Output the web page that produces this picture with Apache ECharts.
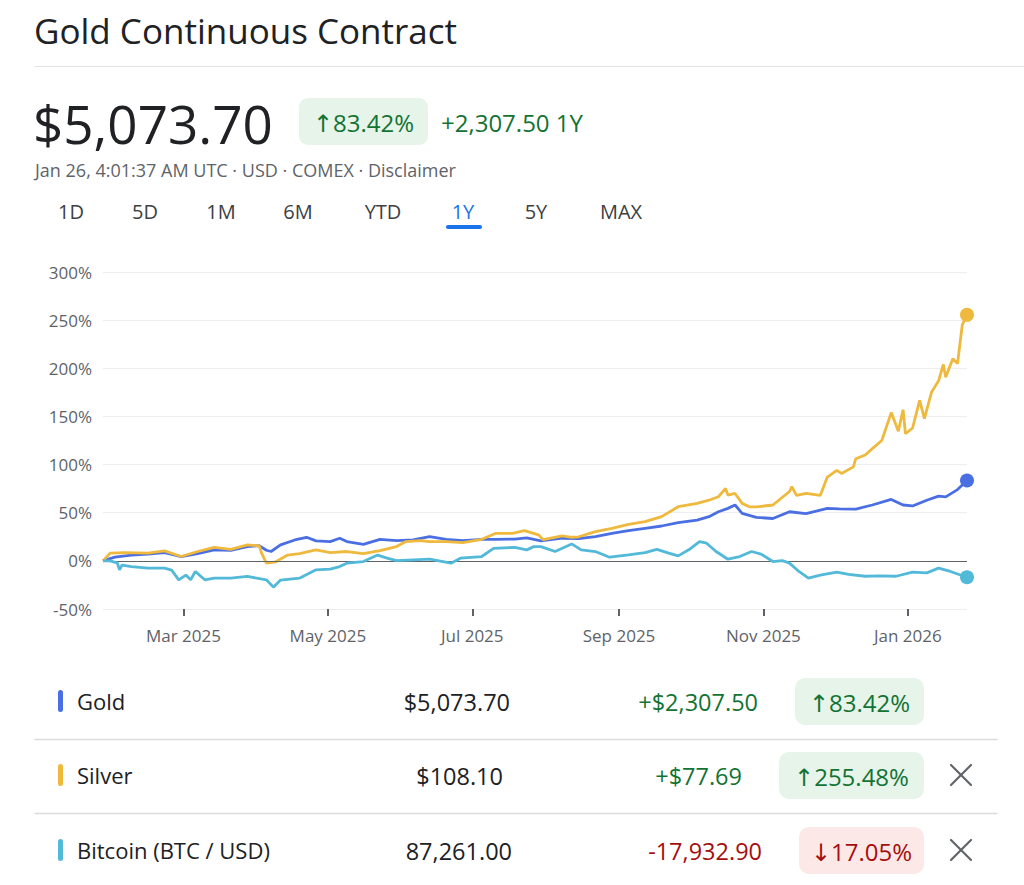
<!DOCTYPE html>
<html><head><meta charset="utf-8">
<script src="https://cdn.jsdelivr.net/npm/echarts@6/dist/echarts.min.js"></script>
<style>html,body{margin:0;padding:0;background:#fff;}#c{width:1024px;height:885px;}</style>
</head><body><div id="c"></div><script>
// ---------- data ----------
const seriesNames = ['Gold', 'Silver', 'Bitcoin (BTC / USD)'];
const goldDates = ['2025-01-26','2025-01-31','2025-02-07','2025-02-14','2025-02-21','2025-02-28','2025-03-07','2025-03-14','2025-03-21','2025-03-28','2025-04-02','2025-04-05','2025-04-07','2025-04-11','2025-04-17','2025-04-22','2025-04-26','2025-05-02','2025-05-06','2025-05-09','2025-05-16','2025-05-23','2025-05-30','2025-06-06','2025-06-13','2025-06-20','2025-06-27','2025-07-05','2025-07-11','2025-07-19','2025-07-24','2025-07-30','2025-08-08','2025-08-15','2025-08-22','2025-08-29','2025-09-05','2025-09-12','2025-09-19','2025-09-26','2025-10-04','2025-10-09','2025-10-13','2025-10-17','2025-10-20','2025-10-23','2025-10-29','2025-11-05','2025-11-12','2025-11-19','2025-11-28','2025-12-03','2025-12-10','2025-12-17','2025-12-25','2025-12-30','2026-01-03','2026-01-09','2026-01-14','2026-01-17','2026-01-22','2026-01-26'];
const goldValues = [0,3.8,6,7,8.6,4.5,7.6,11.4,11,14.8,15.8,11,9.7,16.6,21.7,24.5,20.7,20,23.5,20,17.2,22.4,21,21.7,25.2,22.4,21,22.4,22.4,22.6,23.8,20.7,23.5,23,25.2,28.6,31.4,33.8,36.2,39.7,42.4,45.9,51,54.5,58,49.4,45.2,44,51,49,54.5,54,53.8,58,63.8,58,57,63,67.3,66.5,74,83.42];
const silverDates = ['2025-01-26','2025-01-29','2025-02-04','2025-02-14','2025-02-21','2025-02-28','2025-03-07','2025-03-14','2025-03-21','2025-03-28','2025-04-02','2025-04-03','2025-04-05','2025-04-09','2025-04-14','2025-04-19','2025-04-26','2025-05-02','2025-05-09','2025-05-16','2025-05-23','2025-05-30','2025-06-03','2025-06-09','2025-06-13','2025-06-20','2025-06-27','2025-07-05','2025-07-11','2025-07-18','2025-07-23','2025-07-29','2025-07-31','2025-08-08','2025-08-12','2025-08-15','2025-08-22','2025-08-29','2025-09-05','2025-09-12','2025-09-19','2025-09-26','2025-10-04','2025-10-09','2025-10-13','2025-10-16','2025-10-17','2025-10-20','2025-10-23','2025-10-26','2025-10-29','2025-11-05','2025-11-12','2025-11-13','2025-11-15','2025-11-19','2025-11-25','2025-11-28','2025-12-02','2025-12-04','2025-12-09','2025-12-10','2025-12-14','2025-12-17','2025-12-21','2025-12-25','2025-12-28','2025-12-30','2025-12-31','2026-01-03','2026-01-06','2026-01-08','2026-01-11','2026-01-14','2026-01-16','2026-01-17','2026-01-20','2026-01-22','2026-01-24','2026-01-26'];
const silverValues = [0,8,8.6,8,10.3,4.5,9.7,14.1,12,16.6,15.5,8,-2.4,-1,6,7.6,11.4,8.6,9.7,7.6,10.7,14.8,20,21,20,20,19,22.4,28.6,28.6,31.4,27,22,26,24.5,25,30.4,33.8,38,40.7,45.9,56.2,59.7,63,66.6,75.2,68.3,70,59.7,56.2,56,58,72,77,68,70,68,87,94,90.8,97.6,106,110,116.6,125,154,134.7,157,132,138,166.7,147.7,175,187,204,190.8,210,205,245,255.48];
const btcDates = ['2025-01-26','2025-01-29','2025-02-01','2025-02-02','2025-02-03','2025-02-07','2025-02-14','2025-02-21','2025-02-24','2025-02-27','2025-03-02','2025-03-04','2025-03-06','2025-03-10','2025-03-14','2025-03-21','2025-03-28','2025-04-05','2025-04-08','2025-04-11','2025-04-19','2025-04-26','2025-05-02','2025-05-06','2025-05-09','2025-05-16','2025-05-22','2025-05-26','2025-05-30','2025-06-06','2025-06-13','2025-06-22','2025-06-26','2025-07-05','2025-07-10','2025-07-19','2025-07-24','2025-07-27','2025-07-30','2025-08-05','2025-08-12','2025-08-16','2025-08-22','2025-08-28','2025-09-05','2025-09-12','2025-09-17','2025-09-22','2025-09-26','2025-10-01','2025-10-05','2025-10-08','2025-10-12','2025-10-17','2025-10-22','2025-10-27','2025-10-31','2025-11-05','2025-11-09','2025-11-12','2025-11-16','2025-11-20','2025-11-25','2025-12-02','2025-12-07','2025-12-14','2025-12-20','2025-12-27','2026-01-03','2026-01-09','2026-01-14','2026-01-19','2026-01-26'];
const btcValues = [0,0,-2,-9.3,-4.5,-5.9,-7.6,-7.6,-9.6,-19.7,-14.8,-19.7,-11,-19.7,-18,-18,-16.2,-19.7,-27.3,-20,-18,-9.3,-8.6,-5.9,-2.4,-0.7,6,2.8,0.3,1,1.7,-2.4,2.8,4.5,13,14,11.4,14.8,14.8,9.7,17.6,11.4,9.7,3.8,6.2,8.6,12,8,5.2,12.4,20,18.3,9.7,1.7,4.5,9.7,7,-0.7,0.3,-2.4,-11,-18,-14.8,-11.7,-14,-16,-15.5,-16,-11.7,-12.5,-7.6,-11,-17.05];
const xTickDates = ['2025-03-01','2025-05-01','2025-07-01','2025-09-01','2025-11-01','2026-01-01'];
const yTicks = [-50, 0, 50, 100, 150, 200, 250, 300];
const tabLabels = ['1D','5D','1M','6M','YTD','1Y','5Y','MAX'];
const tablePrices = ['$5,073.70', '$108.10', '87,261.00'];
const tableChanges = ['+$2,307.50', '+$77.69', '-17,932.90'];
const tablePercents = ['↑83.42%', '↑255.48%', '↓17.05%'];

// ---------- styling ----------
const FF = '"Open Sans", Roboto, "Noto Sans", "DejaVu Sans", sans-serif';
const colors = ['#4a6fe3', '#eeb93c', '#52b9d8'];
const GREEN = '#137333', GREEN_BG = '#e6f4ea', RED = '#a50e0e', RED_BG = '#fce8e6';
const ts = s => new Date(s + 'T00:00:00Z').getTime();
const monthNames = ['Jan','Feb','Mar','Apr','May','Jun','Jul','Aug','Sep','Oct','Nov','Dec'];

function pairs(d, v) { return d.map((x, i) => [ts(x), v[i]]); }
const seriesData = [pairs(goldDates, goldValues), pairs(silverDates, silverValues), pairs(btcDates, btcValues)];

const chart = echarts.init(document.getElementById('c'), null, { renderer: 'svg' });

const g = [];
function txt(x, y, text, size, fill, align, weight) {
  g.push({ type: 'text', x: x, y: y, silent: true,
    style: { text: text, font: (weight || 'normal') + ' ' + size + 'px ' + FF, fill: fill, align: align || 'left', verticalAlign: 'middle' } });
}
function rect(x, y, w, h, r, fill) {
  g.push({ type: 'rect', silent: true, shape: { x: x, y: y, width: w, height: h, r: r }, style: { fill: fill } });
}
function line(x1, y1, x2, y2, stroke, w) {
  g.push({ type: 'line', silent: true, shape: { x1: x1, y1: y1, x2: x2, y2: y2 }, style: { stroke: stroke, lineWidth: w, lineCap: 'round' } });
}

// header
txt(34, 30, 'Gold Continuous Contract', 35, '#202124');
line(35, 66.5, 1024, 66.5, '#e3e3e3', 1);
txt(33, 123, tablePrices[0], 53, '#202124');
rect(299, 98, 129, 47, 9, GREEN_BG);
txt(363.5, 122, tablePercents[0], 24, GREEN, 'center');
txt(441, 122, '+2,307.50 1Y', 24, GREEN);
txt(35, 170, 'Jan 26, 4:01:37 AM UTC · USD · COMEX · Disclaimer', 18, '#5f6368');
const tabX = [71, 145, 221, 298, 383, 463, 536, 621];
tabLabels.forEach((t, i) => txt(tabX[i], 211, t, 20, t === '1Y' ? '#1a73e8' : '#3c4043', 'center'));
rect(446, 225, 36, 4, 2, '#1a73e8');

// table
const rowY = [701, 775, 850];
const priceRight = [510, 503, 512];
const pillX = [795, 779, 799];
for (let i = 0; i < 3; i++) {
  const y = rowY[i];
  rect(58, y - 11, 5, 22, 2.5, colors[i]);
  txt(77, y, seriesNames[i], 22, '#202124');
  txt(priceRight[i], y + 1, tablePrices[i], 23.5, '#202124', 'right');
  const up = tablePercents[i].charAt(0) === '↑';
  txt(pillX[i] - 37, y + 1, tableChanges[i], 23.5, up ? GREEN : RED, 'right');
  rect(pillX[i], y - 23, 924 - pillX[i], 47, 10, up ? GREEN_BG : RED_BG);
  txt((pillX[i] + 924) / 2, y + 1, tablePercents[i], 24, up ? GREEN : RED, 'center');
  if (i > 0) {
    line(951, y - 10, 971, y + 10, '#5f6368', 2.2);
    line(971, y - 10, 951, y + 10, '#5f6368', 2.2);
  }
}
line(35, 739.5, 997, 739.5, '#dadce0', 1.5);
line(35, 813.5, 997, 813.5, '#dadce0', 1.5);

const series = seriesData.map((d, i) => {
  const last = d[d.length - 1];
  return {
    name: seriesNames[i], type: 'line', data: d, showSymbol: false, symbol: 'none',
    lineStyle: { color: colors[i], width: 2.8 }, itemStyle: { color: colors[i] },
    z: 3 + i, silent: true,
    markPoint: { symbol: 'circle', symbolSize: 14, silent: true, label: { show: false },
      itemStyle: { color: colors[i] }, data: [{ coord: last }] }
  };
});
series[0].markLine = { silent: true, symbol: 'none', label: { show: false },
  lineStyle: { color: '#5f6368', width: 1.2, type: 'solid' }, data: [{ yAxis: 0 }] };

const tickTs = xTickDates.map(ts);
chart.setOption({
  animation: false,
  backgroundColor: '#fff',
  textStyle: { fontFamily: FF },
  grid: { left: 103, right: 57, top: 272, bottom: 276, containLabel: false },
  xAxis: {
    type: 'value', min: ts('2025-01-26'), max: ts('2026-01-26'), scale: true,
    axisLine: { show: false, onZero: false },
    axisTick: { show: true, length: 7, customValues: tickTs, lineStyle: { color: '#5f6368', width: 2 } },
    axisLabel: { customValues: tickTs, margin: 18, color: '#5f6368', fontSize: 17, fontFamily: FF,
      showMinLabel: true, showMaxLabel: true, hideOverlap: false,
      formatter: v => { const d = new Date(v); return monthNames[d.getUTCMonth()] + ' ' + d.getUTCFullYear(); } },
    splitLine: { show: false }
  },
  yAxis: {
    type: 'value', min: yTicks[0], max: yTicks[yTicks.length - 1], interval: 50,
    axisLine: { show: false }, axisTick: { show: false },
    axisLabel: { margin: 11, color: '#5f6368', fontSize: 17, fontFamily: FF, formatter: '{value}%' },
    splitLine: { lineStyle: { color: '#eeeeee', width: 1 } }
  },
  series: series,
  graphic: { elements: g }
});
</script></body></html>
